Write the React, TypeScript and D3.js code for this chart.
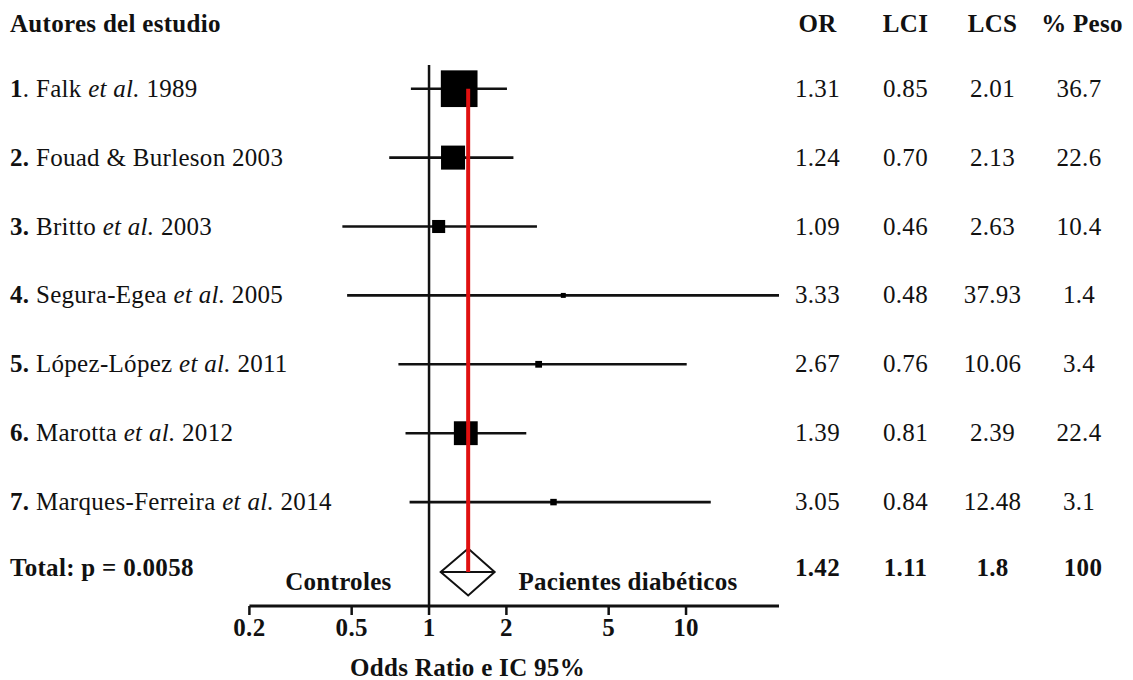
import React from "react";
import * as d3 from "d3";

// Study-level results
const authors = ["Falk", "Fouad & Burleson", "Britto", "Segura-Egea", "López-López", "Marotta", "Marques-Ferreira"];
const etAl = [true, false, true, true, true, true, true];
const years = [1989, 2003, 2003, 2005, 2011, 2012, 2014];
const oddsRatio = [1.31, 1.24, 1.09, 3.33, 2.67, 1.39, 3.05];
const lowerCI = [0.85, 0.70, 0.46, 0.48, 0.76, 0.81, 0.84];
const upperCI = [2.01, 2.13, 2.63, 37.93, 10.06, 2.39, 12.48];
const weights = [36.7, 22.6, 10.4, 1.4, 3.4, 22.4, 3.1];

// Pooled estimate
const totalOR = 1.42;
const totalLCI = 1.11;
const totalLCS = 1.8;
const totalWeight = 100;
const pValue = "0.0058";

const tickValues = [0.2, 0.5, 1, 2, 5, 10];
const headers = ["OR", "LCI", "LCS", "% Peso"];

const W = 1133;
const H = 680;
const FONT = "'Liberation Serif', 'Times New Roman', serif";
const FS = 25;

export default function App() {
  const x = d3.scaleLog().domain([0.2, 23]).range([249.4, 779]);
  const clampX = (v: number) => x(Math.max(0.2, Math.min(23, v)));
  const y = d3.scaleLinear().domain([0, 1]).range([88.7, 157.6]);
  const size = d3.scaleLinear().domain([0, 36.7]).range([3.7, 36.7]);
  const fmt = d3.format(".2f");

  const axisY = 606;
  const totalY = y(7) + 1;
  const diamondHalf = 23.5;
  const colX = [817.5, 905.5, 992.5, 1079];

  return (
    <svg width={W} height={H} style={{ position: "absolute", left: 0, top: 0, background: "#fff" }}
      fontFamily={FONT} fontSize={FS} fill="#111" letterSpacing={0.3}>
      {/* headers */}
      <text x={10} y={32} fontWeight="bold">Autores del estudio</text>
      {headers.map((h, i) => (
        <text key={h} x={colX[i] + (i === 3 ? 3 : 0)} y={32} fontWeight="bold" textAnchor="middle">{h}</text>
      ))}

      {/* line of no effect */}
      <line x1={x(1)} x2={x(1)} y1={65} y2={axisY} stroke="#111" strokeWidth={2.5} />

      {/* study rows */}
      {authors.map((a, i) => {
        const cy = y(i);
        const s = size(weights[i]);
        return (
          <g key={a}>
            <text x={10} y={cy + 8}>
              <tspan fontWeight="bold">{i + 1}</tspan>
              <tspan fontWeight={i === 0 ? "normal" : "bold"}>.</tspan>
              <tspan>{" " + a + " "}</tspan>
              {etAl[i] && <tspan fontStyle="italic">et al.</tspan>}
              <tspan>{(etAl[i] ? " " : "") + years[i]}</tspan>
            </text>
            <line x1={clampX(lowerCI[i])} x2={clampX(upperCI[i])} y1={cy} y2={cy} stroke="#111" strokeWidth={2.6} />
            <rect x={x(oddsRatio[i]) - s / 2} y={cy - s / 2} width={s} height={s} fill="#000" />
            <text x={colX[0]} y={cy + 8} textAnchor="middle">{fmt(oddsRatio[i])}</text>
            <text x={colX[1]} y={cy + 8} textAnchor="middle">{fmt(lowerCI[i])}</text>
            <text x={colX[2]} y={cy + 8} textAnchor="middle">{fmt(upperCI[i])}</text>
            <text x={colX[3]} y={cy + 8} textAnchor="middle">{String(weights[i])}</text>
          </g>
        );
      })}

      {/* pooled diamond */}
      <path
        d={`M${x(totalLCI)},${totalY} L${x(totalOR)},${totalY - diamondHalf} L${x(totalLCS)},${totalY} L${x(totalOR)},${totalY + diamondHalf} Z`}
        fill="#fff" stroke="#111" strokeWidth={2}
      />
      <line x1={x(totalLCI)} x2={x(totalLCS)} y1={totalY} y2={totalY} stroke="#111" strokeWidth={2} />

      {/* pooled estimate reference line */}
      <line x1={x(totalOR)} x2={x(totalOR)} y1={y(0)} y2={totalY} stroke="#e01010" strokeWidth={4} />

      {/* total row */}
      <text x={10} y={totalY + 4} fontWeight="bold">Total: p = {pValue}</text>
      <text x={colX[0]} y={totalY + 4} fontWeight="bold" textAnchor="middle">{String(totalOR)}</text>
      <text x={colX[1]} y={totalY + 4} fontWeight="bold" textAnchor="middle">{String(totalLCI)}</text>
      <text x={colX[2]} y={totalY + 4} fontWeight="bold" textAnchor="middle">{String(totalLCS)}</text>
      <text x={colX[3] + 4} y={totalY + 4} fontWeight="bold" textAnchor="middle">{String(totalWeight)}</text>

      {/* side captions */}
      <text x={338.4} y={590} fontWeight="bold" textAnchor="middle">Controles</text>
      <text x={628} y={590} fontWeight="bold" textAnchor="middle">Pacientes diabéticos</text>

      {/* x axis */}
      <line x1={x(0.2)} x2={x(23)} y1={axisY} y2={axisY} stroke="#111" strokeWidth={3} />
      {tickValues.map((t) => (
        <g key={t}>
          <line x1={x(t)} x2={x(t)} y1={axisY} y2={axisY + 9} stroke="#111" strokeWidth={2.5} />
          <text x={x(t)} y={636} fontWeight="bold" textAnchor="middle">{String(t)}</text>
        </g>
      ))}
      <text x={467.5} y={676} fontWeight="bold" textAnchor="middle">Odds Ratio e IC 95%</text>
    </svg>
  );
}
